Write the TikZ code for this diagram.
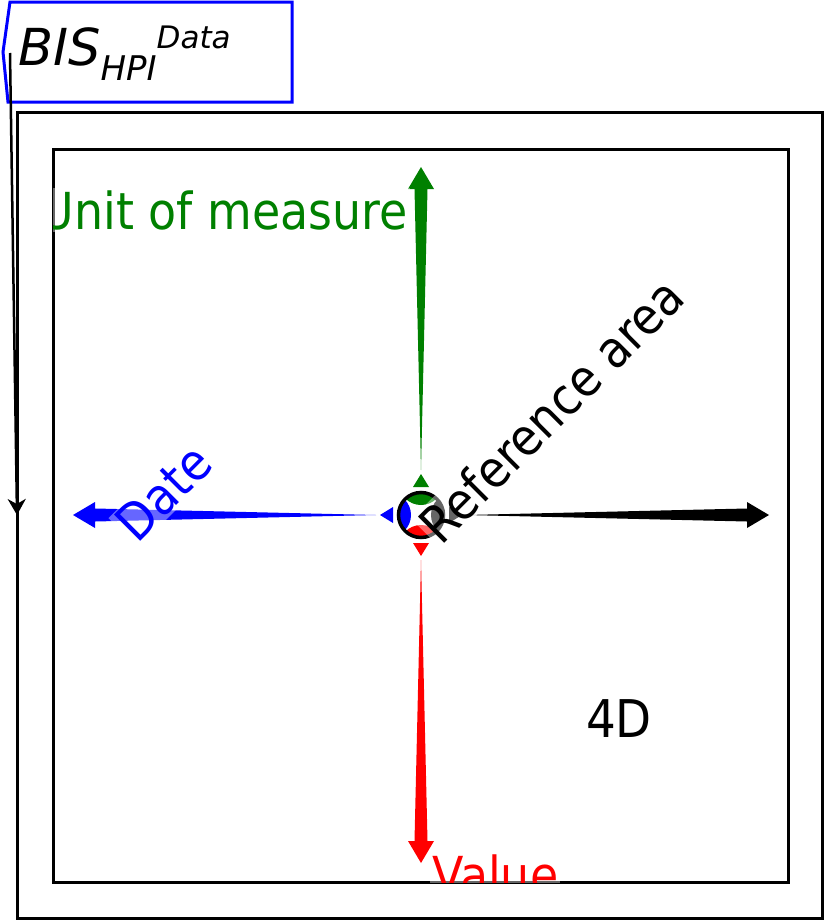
\documentclass[tikz,border=0pt]{standalone}
\usepackage{fontspec}
\usetikzlibrary{arrows.meta}
\setmainfont{DejaVu Sans}[FakeStretch=0.9]
\newfontfamily\titlefont{DejaVu Sans}

\definecolor{unitgreen}{RGB}{0,128,0}
\definecolor{dateblue}{RGB}{0,0,255}
\definecolor{valuered}{RGB}{255,0,0}

\tikzset{
  frame/.style={draw, line width=3pt},
  axislabel/.style={fill=white, fill opacity=0.4, text opacity=1, inner sep=2pt,
    font=\fontsize{51}{60}\selectfont},
}

% tapered axis arrow from the hub: #1 colour, #2 angle
\newcommand{\axisarrow}[2]{%
  \begin{scope}[shift={(hub)}, rotate=#2]
    \fill[#1] (45,0) -- (326,6.5) -- (326,13) -- (348,0) -- (326,-13) -- (326,-6.5) -- cycle;
    \fill[#1] (28,8) -- (41,0) -- (28,-8) -- cycle;
    \begin{scope}
      \clip (0,0) circle (22);
      \fill[#1] (32,0) circle (22);
    \end{scope}
  \end{scope}}

\begin{document}
\begin{tikzpicture}[x=1pt, y=-1pt]
    \useasboundingbox (0,0) rectangle (826,921);

    % draw frames
    \draw[frame] (17,112) rectangle (822,918);
    \draw[frame] (53,149) rectangle (788,882);

    % draw axes
    \coordinate (hub) at (421,515);
    \axisarrow{black}{0}
    \axisarrow{unitgreen}{90}
    \axisarrow{dateblue}{180}
    \axisarrow{valuered}{-90}
    \node[draw, circle, line width=3.5pt, minimum size=45pt, inner sep=0pt] (ring) at (hub) {};

    % draw title box
    \draw[dateblue, line width=3pt] (10,2) -- (292,2) -- (292,102) -- (8,102) -- (3,52) -- cycle;
    \node[anchor=base west, inner sep=2pt, font=\titlefont\itshape\fontsize{51}{60}\selectfont] (title) at (16,65)
      {BIS\raisebox{-15pt}{\fontsize{34}{40}\selectfont HPI}\raisebox{17pt}{\fontsize{31}{36}\selectfont Data}};
    \coordinate (titletip) at (10,53);
    \coordinate (frametip) at (17,515);
    \draw[line width=2.5pt, -{Stealth[length=16pt, width=18pt, inset=5pt]}] (titletip) -- (frametip);

    % draw labels
    \begin{scope}
      \clip (53,149) rectangle (788,882);
      \node[axislabel, text=unitgreen, anchor=base east] (unit) at (410,229) {Unit of measure};
      \node[axislabel, text=dateblue, anchor=base west, rotate=45] (date) at (136,546) {Date};
      \node[axislabel, anchor=base west, rotate=45] (refarea) at (440,548) {Reference area};
      \node[axislabel, text=valuered, anchor=base west] (value) at (430,893) {Value};
      \node[axislabel, anchor=base west, font=\fontsize{52}{60}\selectfont] (dims) at (584,737) {4D};
    \end{scope}
\end{tikzpicture}
\end{document}
